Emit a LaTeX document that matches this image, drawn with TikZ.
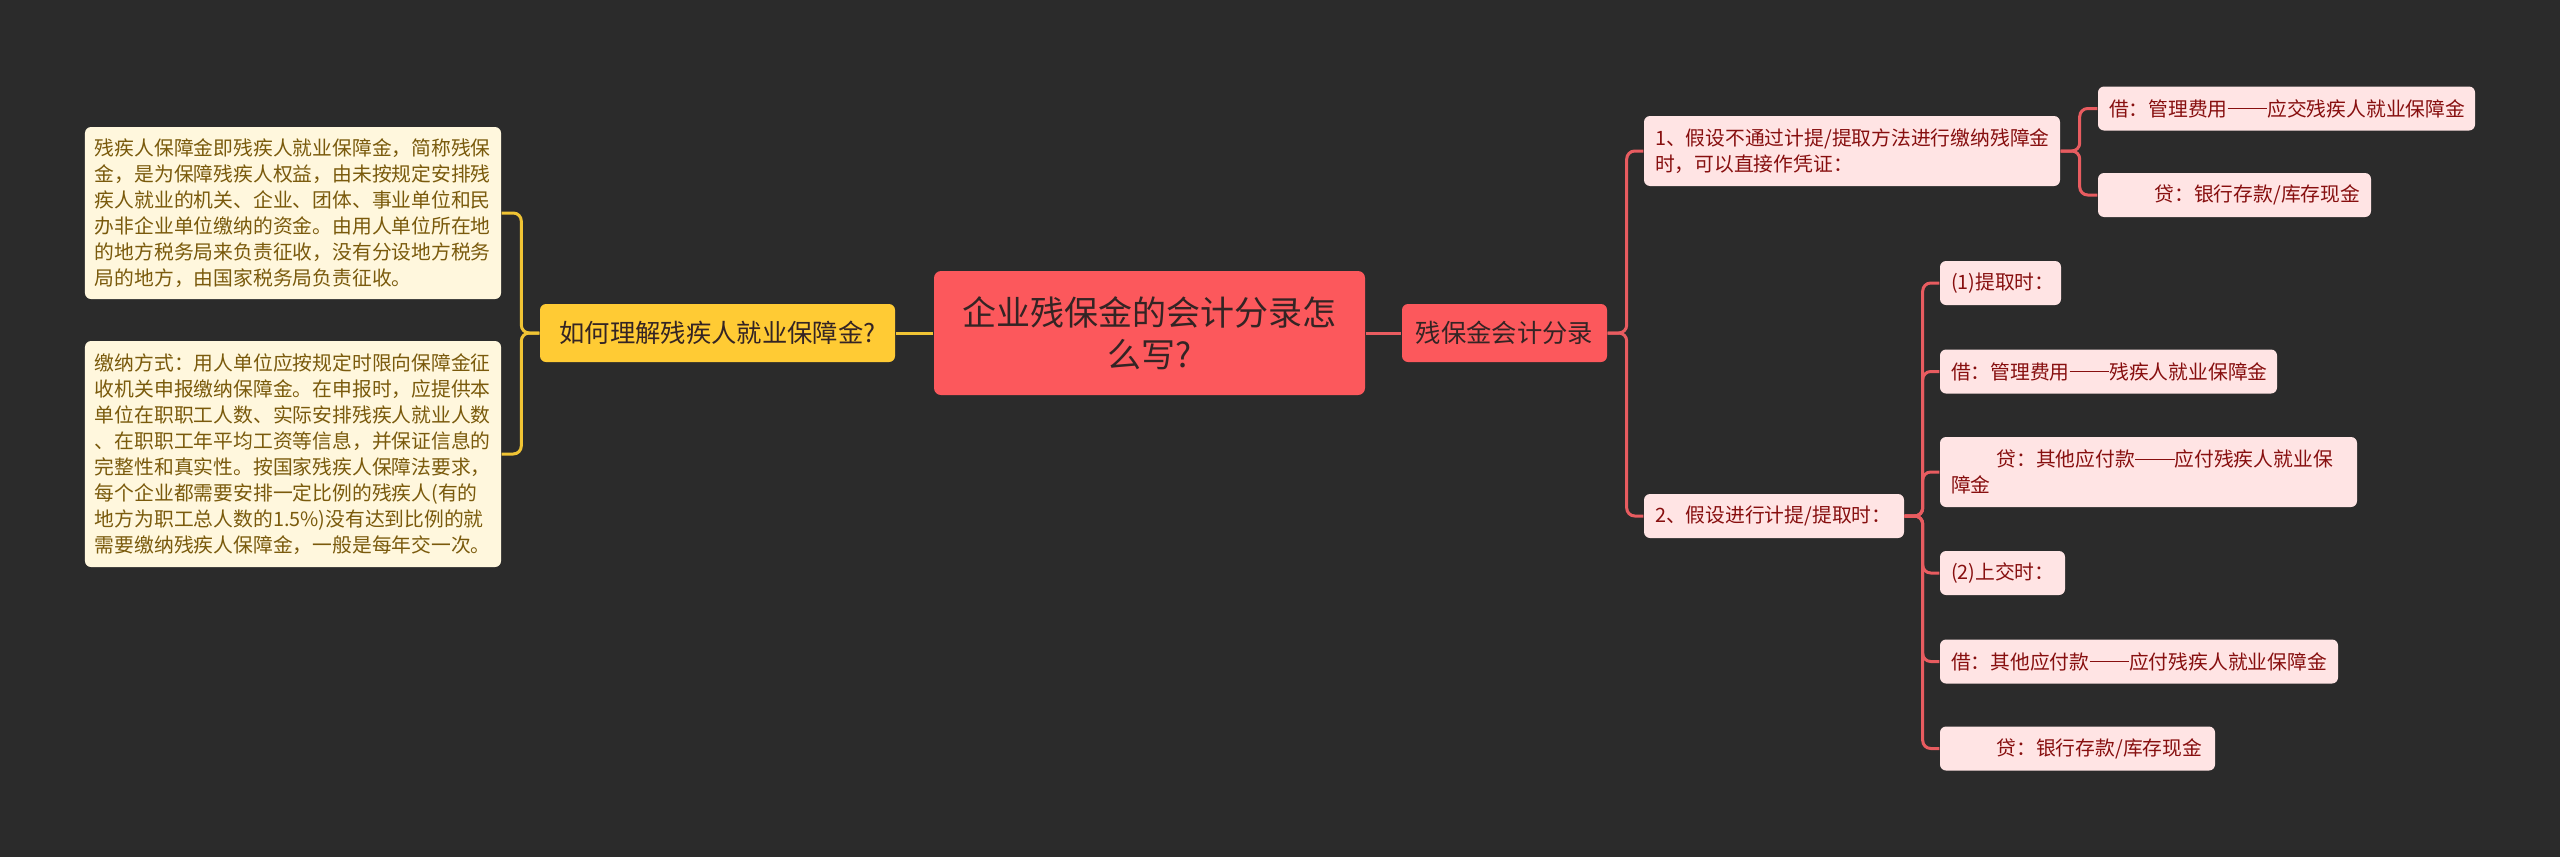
\documentclass[tikz,border=0pt]{standalone}
\usepackage{fontspec}
\setmainfont{Noto Sans CJK SC}
\usepackage{tikz}
\usetikzlibrary{positioning,calc}
\definecolor{bgdark}{RGB}{43,43,43}
\definecolor{rootred}{RGB}{252,88,92}
\definecolor{roottext}{RGB}{52,36,36}
\definecolor{goldfill}{RGB}{255,203,52}
\definecolor{goldline}{RGB}{240,196,52}
\definecolor{creamfill}{RGB}{255,247,221}
\definecolor{creamtext}{RGB}{122,90,12}
\definecolor{pinkfill}{RGB}{255,228,228}
\definecolor{pinktext}{RGB}{135,15,15}
\definecolor{redline}{RGB}{232,92,96}
\newcommand{\leaffont}{\fontsize{5.63pt}{7.4pt}\selectfont}
\newcommand{\midfont}{\fontsize{7.2pt}{8.6pt}\selectfont}
\newcommand{\rootfont}{\fontsize{9.67pt}{11.95pt}\selectfont}
\newcommand{\fwdash}{\mbox{\rule[0.34em]{2em}{0.06em}}}

\begin{document}
\begin{tikzpicture}[
  rootbox/.style={rectangle, fill=rootred, text=roottext, rounded corners=0.07cm,
                  font=\rootfont, align=center, minimum width=4.31cm, minimum height=1.24cm},
  topic/.style={rectangle, fill=#1, text=roottext, rounded corners=0.06cm,
                font=\midfont, align=center, minimum height=0.58cm, inner sep=0pt},
  note/.style={rectangle, fill=creamfill, text=creamtext, rounded corners=0.06cm,
               font=\leaffont, align=left, text width=#1, inner xsep=0.10cm, inner ysep=0pt},
  entry/.style={rectangle, fill=pinkfill, text=pinktext, rounded corners=0.06cm,
                font=\leaffont, align=left, text width=#1, inner xsep=0.11cm, inner ysep=0pt,
                minimum height=0.44cm},
  link/.style={line width=0.03cm, rounded corners=0.08cm, draw=#1},
]
\fill[bgdark] (0,0) rectangle (25.6,-8.57);
\useasboundingbox (0,0) rectangle (25.6,-8.57);

% centre
\node[rootbox] (root) at (11.495,-3.33) {企业残保金的会计分录怎\\么写?};

% left side
\node[topic=goldfill, minimum width=3.55cm] (ask) at (7.175,-3.33) {如何理解残疾人就业保障金?};
\node[note=3.96cm, minimum height=1.72cm] (note1) at (2.93,-2.13) {
    残疾人保障金即残疾人就业保障金，简称残保\\
    金，是为保障残疾人权益，由未按规定安排残\\
    疾人就业的机关、企业、团体、事业单位和民\\
    办非企业单位缴纳的资金。由用人单位所在地\\
    的地方税务局来负责征收，没有分设地方税务\\
    局的地方，由国家税务局负责征收。
};
\node[note=3.96cm, minimum height=2.26cm] (note2) at (2.93,-4.54) {
    缴纳方式：用人单位应按规定时限向保障金征\\
    收机关申报缴纳保障金。在申报时，应提供本\\
    单位在职职工人数、实际安排残疾人就业人数\\
    、在职职工年平均工资等信息，并保证信息的\\
    完整性和真实性。按国家残疾人保障法要求，\\
    每个企业都需要安排一定比例的残疾人(有的\\
    地方为职工总人数的1.5\%)没有达到比例的就\\
    需要缴纳残疾人保障金，一般是每年交一次。
};

% right side
\node[topic=rootred, minimum width=2.05cm] (acct) at (15.045,-3.33) {残保金会计分录};

\node[entry=3.94cm, minimum height=0.70cm] (n1) at (18.52,-1.51)
    {1、假设不通过计提/提取方法进行缴纳残障金\\时，可以直接作凭证：};
\node[entry=3.55cm] (n11) at (22.865,-1.085) {借：管理费用\fwdash 应交残疾人就业保障金};
\node[entry=2.51cm] (n12) at (22.345,-1.95) {\hspace*{2.3em}贷：银行存款/库存现金};

\node[entry=2.38cm] (n2) at (17.74,-5.16) {2、假设进行计提/提取时：};
\node[entry=0.99cm] (n21) at (20.005,-2.83) {(1)提取时：};
\node[entry=3.15cm] (n22) at (21.085,-3.715) {借：管理费用\fwdash 残疾人就业保障金};
\node[entry=3.95cm, minimum height=0.70cm] (n23) at (21.485,-4.72)
    {\hspace*{2.3em}贷：其他应付款\fwdash 应付残疾人就业保\\障金};
\node[entry=1.03cm] (n24) at (20.025,-5.73) {(2)上交时：};
\node[entry=3.76cm] (n25) at (21.39,-6.615) {借：其他应付款\fwdash 应付残疾人就业保障金};
\node[entry=2.53cm] (n26) at (20.775,-7.485) {\hspace*{2.3em}贷：银行存款/库存现金};

% connectors
\draw[link=goldline] (root.west) -- (ask.east);
\foreach \c in {note1,note2}
  \draw[link=goldline] (ask.west) -- ++(-0.18,0) |- (\c.east);

\draw[link=redline] (root.east) -- (acct.west);
\foreach \c in {n1,n2}
  \draw[link=redline] (acct.east) -- ++(0.19,0) |- (\c.west);
\foreach \c in {n11,n12}
  \draw[link=redline] (n1.east) -- ++(0.19,0) |- (\c.west);
\foreach \c in {n21,n22,n23,n24,n25,n26}
  \draw[link=redline] (n2.east) -- ++(0.18,0) |- (\c.west);

\end{tikzpicture}
\end{document}
